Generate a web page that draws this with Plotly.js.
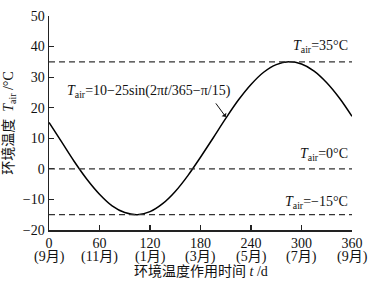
<!DOCTYPE html>
<html>
<head>
<meta charset="utf-8">
<script src="https://cdn.plot.ly/plotly-3.0.1.min.js"></script>
<style>html,body{margin:0;padding:0;background:#fff;}#chart{width:376px;height:281px;}</style>
</head>
<body>
<div id="chart"></div>
<script>
// Values
const days = [0, 15, 30, 45, 60, 75, 90, 105, 120, 135, 150, 165, 180, 195, 210, 225, 240, 255, 270, 285, 300, 315, 330, 345, 360];
const airTemp = [15.2, 8.8, 2.4, -3.4, -8.3, -12.1, -14.3, -15.0, -14.0, -11.4, -7.4, -2.2, 3.8, 10.1, 16.5, 22.5, 27.6, 31.6, 34.1, 35.0, 34.3, 32.0, 28.2, 23.2, 17.2];
const tickDays = [0, 60, 120, 180, 240, 300, 360];
const tickMonths = ['(9月)', '(11月)', '(1月)', '(3月)', '(5月)', '(7月)', '(9月)'];
const yTicks = [-20, -10, 0, 10, 20, 30, 40, 50];
const refLevels = [35, 0, -15];
const refLabels = ['<i>T</i><sub>air</sub>=35°C', '<i>T</i><sub>air</sub>=0°C', '<i>T</i><sub>air</sub>=−15°C'];
const formulaText = '<i>T</i><sub>air</sub>=10−25sin(2π<i>t</i>/365−π/15)';

const serif = 'Liberation Serif, Times New Roman, serif';
const cjk = 'Liberation Serif, Noto Sans CJK SC, serif';
const axisColor = '#222';

const traces = [{
  x: days, y: airTemp, type: 'scatter', mode: 'lines',
  line: {color: '#000', width: 1.5, shape: 'spline'},
  hoverinfo: 'skip', showlegend: false
}];

const shapes = refLevels.map(v => ({
  type: 'line', xref: 'x', yref: 'y', x0: 0, x1: 360, y0: v, y1: v,
  line: {color: '#333', width: 1.2, dash: '6px,4px'}
}));

const labelOffsets = [5, 4.6, 4];
const annotations = [];
refLevels.forEach((v, i) => {
  annotations.push({
    x: 358, y: v + labelOffsets[i], xref: 'x', yref: 'y', text: refLabels[i],
    showarrow: false, xanchor: 'right', yanchor: 'middle',
    font: {family: serif, size: 14, color: '#111'}
  });
});
tickDays.forEach((d, i) => {
  annotations.push({
    x: d, y: -0.127, xref: 'x', yref: 'paper', text: tickMonths[i],
    showarrow: false, xanchor: 'center', yanchor: 'middle',
    font: {family: cjk, size: 14, color: '#111'}
  });
});
annotations.push({
  x: 19, y: 25.2, xref: 'x', yref: 'y', text: formulaText, showarrow: false,
  xanchor: 'left', yanchor: 'middle', font: {family: serif, size: 14, color: '#111'}
});
annotations.push({
  x: 210, y: 17, xref: 'x', yref: 'y', text: '', showarrow: true,
  ax: -11, ay: -15, arrowhead: 1, arrowsize: 1, arrowwidth: 1, arrowcolor: '#111', standoff: 0
});
annotations.push({
  x: 0.5, y: -0.195, xref: 'paper', yref: 'paper',
  text: '环境温度作用时间 <i>t</i> /d', showarrow: false,
  xanchor: 'center', yanchor: 'middle', font: {family: cjk, size: 14, color: '#111'}
});

const layout = {
  width: 376, height: 281,
  margin: {l: 49, r: 24, t: 16, b: 51},
  paper_bgcolor: '#fff', plot_bgcolor: '#fff',
  showlegend: false,
  xaxis: {
    range: [0, 360], tickvals: tickDays, ticktext: tickDays.map(String),
    showgrid: false, zeroline: false, showline: true, linecolor: axisColor, linewidth: 1.5,
    ticks: 'inside', ticklen: 5, tickwidth: 1.2, tickcolor: axisColor,
    tickfont: {family: serif, size: 14, color: '#111'}
  },
  yaxis: {
    range: [-20, 50], tickvals: yTicks,
    showgrid: false, zeroline: false, showline: true, linecolor: axisColor, linewidth: 1.5,
    ticks: 'inside', ticklen: 5, tickwidth: 1.2, tickcolor: axisColor,
    tickfont: {family: serif, size: 14, color: '#111'},
    title: {text: '环境温度  <i>T</i><sub>air</sub> /°C', standoff: 6, font: {family: cjk, size: 14, color: '#111'}}
  },
  shapes: shapes,
  annotations: annotations
};

Plotly.newPlot('chart', traces, layout, {staticPlot: true, displayModeBar: false});
</script>
</body>
</html>
